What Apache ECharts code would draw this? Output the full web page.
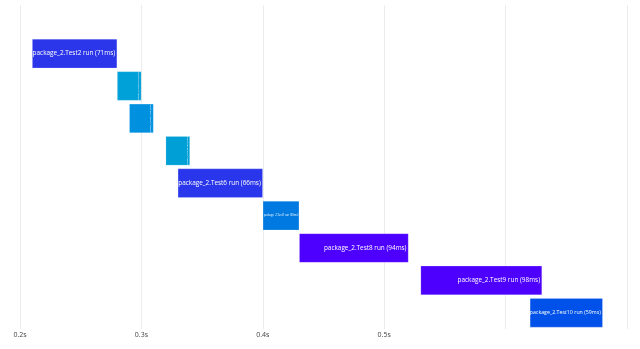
<!DOCTYPE html>
<html>
<head>
<meta charset="utf-8">
<script src="https://cdn.jsdelivr.net/npm/echarts@6/dist/echarts.min.js"></script>
<style>
html,body{margin:0;padding:0;background:#fff;}
#chart{width:640px;height:349px;}
</style>
</head>
<body>
<div id="chart"></div>
<script>
// Data (seconds)
const categories = ['package_2.Test1','package_2.Test2','package_2.Test3','package_2.Test4','package_2.Test5','package_2.Test6','package_2.Test7','package_2.Test8','package_2.Test9','package_2.Test10'];
const startTimes = [null, 0.21, 0.28, 0.29, 0.32, 0.33, 0.40, 0.43, 0.53, 0.62];
const endTimes   = [null, 0.28, 0.30, 0.31, 0.34, 0.40, 0.43, 0.52, 0.63, 0.68];
const labelMs    = [null, 71, 20, 20, 20, 66, 30, 94, 98, 59];
const xTicks = [0.2, 0.3, 0.4, 0.5];

const barColors = [null,'#2b36eb','#00a0d8','#0090e0','#00a0d6','#2a36eb','#0079e0','#4d00ff','#4d00fe','#0051e9'];

const GRID_LEFT = 20, GRID_RIGHT = 13, X_MIN = 0.2, X_MAX = 0.7;
const pxPerUnit = (640 - GRID_LEFT - GRID_RIGHT) / (X_MAX - X_MIN);

const baseData = startTimes.map(s => s == null ? '-' : s);
const durData = startTimes.map((s, i) => {
  if (s == null) return '-';
  const d = +(endTimes[i] - s).toFixed(4);
  const text = categories[i] + ' run (' + labelMs[i] + 'ms)';
  let label;
  if (d < 0.025) {
    label = {show:true, formatter:text, position:['88%','50%'], rotate:90, fontSize:2.5, color:'#e8f4ff', align:'center', verticalAlign:'middle'};
  } else if (d < 0.035) {
    label = {show:true, formatter:text, position:'inside', fontSize:2.7, color:'#fff'};
  } else {
    const fit = (d * pxPerUnit - 3) / (text.length * 0.49);
    label = {show:true, formatter:text, position:'insideRight', distance:2, fontSize:Math.min(6.4, fit), color:'#fff'};
  }
  return {value:d, itemStyle:{color:barColors[i]}, label};
});

const chart = echarts.init(document.getElementById('chart'), null, {renderer:'canvas'});
chart.setOption({
  animation:false,
  grid:{left:GRID_LEFT, right:GRID_RIGHT, top:5, bottom:20, containLabel:false},
  xAxis:{
    type:'value', min:X_MIN, max:X_MAX, interval:0.1,
    axisLine:{show:false}, axisTick:{show:false},
    splitLine:{show:true, lineStyle:{color:'#ececec', width:1}},
    axisLabel:{
      fontFamily:'Open Sans, Verdana, Arial', fontSize:7, color:'#444', margin:2,
      formatter: v => xTicks.some(t => Math.abs(t - v) < 1e-6) ? (+v.toFixed(1)) + 's' : ''
    }
  },
  yAxis:{
    type:'category', data:categories, inverse:true,
    axisLine:{show:false}, axisTick:{show:false}, axisLabel:{show:false}, splitLine:{show:false}
  },
  series:[
    {type:'bar', stack:'t', data:baseData, itemStyle:{color:'transparent'}, barCategoryGap:'10%', silent:true},
    {type:'bar', stack:'t', data:durData, barCategoryGap:'10%',
     itemStyle:{borderColor:'rgba(255,255,255,0.35)', borderWidth:0.5},
     label:{fontFamily:'Open Sans, Verdana, Arial'}}
  ]
});
</script>
</body>
</html>
